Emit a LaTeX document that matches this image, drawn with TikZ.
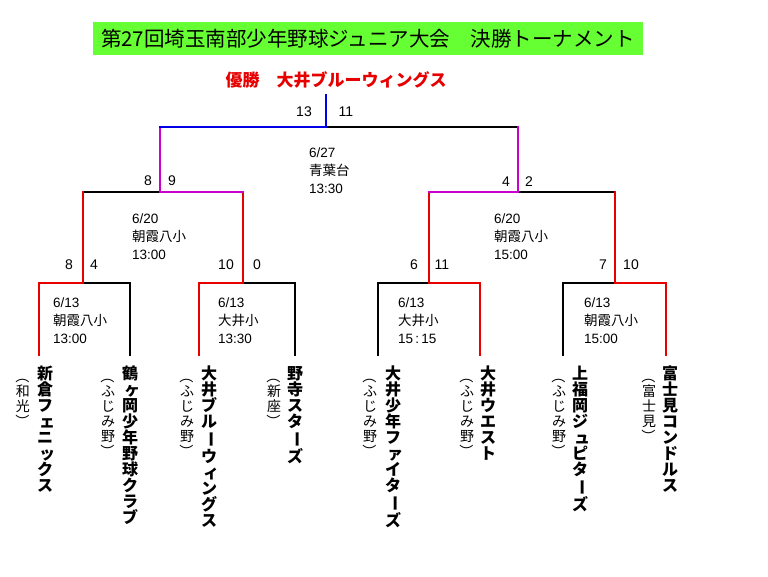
\documentclass[tikz,border=0pt]{standalone}
\usepackage{fontspec}
\setmainfont{Noto Sans CJK JP}
\newfontfamily\numfont{Liberation Sans}
\usepackage{graphicx}
\usepackage{tikz}
\usetikzlibrary{positioning}

\definecolor{winred}{RGB}{230,0,0}
\definecolor{finalblue}{RGB}{0,0,230}
\definecolor{semiviolet}{RGB}{204,0,204}
\definecolor{titlegreen}{RGB}{102,255,51}

\newcommand{\kazu}[1]{{\numfont #1}}
\newcommand{\chou}{\rotatebox[origin=c]{-90}{ー}}
\newcommand{\kakkoL}{\rotatebox[origin=c]{-90}{（}}
\newcommand{\kakkoR}{\rotatebox[origin=c]{-90}{）}}
\newcommand{\kogaki}[1]{\hspace*{0.25em}#1}

\begin{document}
\begin{tikzpicture}[x=1pt,y=-1pt,line width=2.2pt,line cap=rect]
    \tikzstyle{titlebox}=[fill=titlegreen, minimum width=550pt, minimum height=33pt, inner sep=0pt, font=\fontsize{20.5}{24}\selectfont]
    \tikzstyle{champ}=[text=winred, inner sep=0pt, font=\fontsize{17}{20}\selectfont\bfseries]
    \tikzstyle{score}=[inner sep=0pt, font=\fontsize{14}{16}\selectfont\numfont]
    \tikzstyle{info}=[anchor=north west, inner sep=0pt, align=left, font=\fontsize{13.5}{18}\selectfont]
    \tikzstyle{team}=[anchor=north, inner sep=0pt, align=center, font=\fontsize{16}{16}\selectfont\bfseries]
    \tikzstyle{town}=[anchor=north, inner sep=0pt, align=center, font=\fontsize{14}{15}\selectfont]

    \useasboundingbox[fill=white] (0,0) rectangle (768,576);

    \node[titlebox] (title) at (368,38.5) {第27回埼玉南部少年野球ジュニア大会　決勝トーナメント};
    \node[champ]    (champ) at (336,80) {優勝　大井ブルーウィングス};

    % bracket points
    \coordinate (ft) at (326,95);
    \coordinate (f)  at (326,127);
    \coordinate (fl) at (160,127);
    \coordinate (fr) at (518,127);
    \coordinate (s1)  at (160,192);
    \coordinate (s2)  at (518,192);
    \coordinate (s1l) at (83,192);
    \coordinate (s1r) at (243,192);
    \coordinate (s2l) at (429,192);
    \coordinate (s2r) at (615,192);
    \coordinate (m1) at (83,283);
    \coordinate (m2) at (243,283);
    \coordinate (m3) at (429,283);
    \coordinate (m4) at (615,283);
    \foreach \i/\x in {1/39,2/130,3/199,4/295,5/378,6/480,7/563,8/666} {
        \coordinate (c\i) at (\x,283);
        \coordinate (t\i) at (\x,355);
    }

    % losers
    \draw (m1) -- (c2) -- (t2);
    \draw (m2) -- (c4) -- (t4);
    \draw (m3) -- (c5) -- (t5);
    \draw (m4) -- (c7) -- (t7);
    \draw (s1) -- (s1l);
    \draw (s2) -- (s2r);
    \draw (f) -- (fr);

    % winners
    \draw[winred] (t1) -- (c1) -- (m1) -- (s1l);
    \draw[winred] (t3) -- (c3) -- (m2) -- (s1r);
    \draw[winred] (t6) -- (c6) -- (m3) -- (s2l);
    \draw[winred] (t8) -- (c8) -- (m4) -- (s2r);
    \draw[semiviolet] (s1r) -- (s1) -- (fl);
    \draw[semiviolet] (s2l) -- (s2) -- (fr);
    \draw[finalblue] (fl) -- (f) -- (ft);

    % scores
    \node[score] (a13) at (304,112) {13};
    \node[score] (b11) at (346,112) {11};
    \node[score] (a8)  at (148,181) {8};
    \node[score] (b9)  at (172,181) {9};
    \node[score] (a4)  at (506,182) {4};
    \node[score] (b2)  at (529,182) {2};
    \node[score] (p8)  at (69,265) {8};
    \node[score] (q4)  at (94,265) {4};
    \node[score] (p10) at (226,265) {10};
    \node[score] (q0)  at (257,265) {0};
    \node[score] (p6)  at (414,265) {6};
    \node[score] (q11) at (442,265) {11};
    \node[score] (p7)  at (603,265) {7};
    \node[score] (q10) at (631,265) {10};

    % dates, grounds, times
    \node[info] (g7) at (308,146.5) {\kazu{6/27}\\青葉台\\\kazu{13:30}};
    \node[info] (g5) at (131,212.5) {\kazu{6/20}\\朝霞八小\\\kazu{13:00}};
    \node[info] (g6) at (493,212.5) {\kazu{6/20}\\朝霞八小\\\kazu{15:00}};
    \node[info] (g1) at (52,296.5)  {\kazu{6/13}\\朝霞八小\\\kazu{13:00}};
    \node[info] (g2) at (217,296.5) {\kazu{6/13}\\大井小\\\kazu{13:30}};
    \node[info] (g3) at (397,296.5) {\kazu{6/13}\\大井小\\\kazu{15\,:\,15}};
    \node[info] (g4) at (583,296.5) {\kazu{6/13}\\朝霞八小\\\kazu{15:00}};

    % teams
    \node[team] (tm1) at (45,365)  {新\\倉\\フ\\\kogaki{ェ}\\ニ\\\kogaki{ッ}\\ク\\ス};
    \node[town] (ht1) at (23,368)  {\kakkoL\\和\\光\\\kakkoR};
    \node[team] (tm2) at (130,365) {鶴\\\kogaki{ヶ}\\岡\\少\\年\\野\\球\\ク\\ラ\\ブ};
    \node[town] (ht2) at (108,368) {\kakkoL\\ふ\\じ\\み\\野\\\kakkoR};
    \node[team] (tm3) at (209,365) {大\\井\\ブ\\ル\\\chou\\ウ\\\kogaki{ィ}\\ン\\グ\\ス};
    \node[town] (ht3) at (187,368) {\kakkoL\\ふ\\じ\\み\\野\\\kakkoR};
    \node[team] (tm4) at (295,365) {野\\寺\\ス\\タ\\\chou\\ズ};
    \node[town] (ht4) at (274,368) {\kakkoL\\新\\座\\\kakkoR};
    \node[team] (tm5) at (393,365) {大\\井\\少\\年\\フ\\\kogaki{ァ}\\イ\\タ\\\chou\\ズ};
    \node[town] (ht5) at (370,368) {\kakkoL\\ふ\\じ\\み\\野\\\kakkoR};
    \node[team] (tm6) at (488,365) {大\\井\\ウ\\エ\\ス\\ト};
    \node[town] (ht6) at (467,368) {\kakkoL\\ふ\\じ\\み\\野\\\kakkoR};
    \node[team] (tm7) at (580,365) {上\\福\\岡\\ジ\\\kogaki{ュ}\\ピ\\タ\\\chou\\ズ};
    \node[town] (ht7) at (559,368) {\kakkoL\\ふ\\じ\\み\\野\\\kakkoR};
    \node[team] (tm8) at (670,365) {富\\士\\見\\コ\\ン\\ド\\ル\\ス};
    \node[town] (ht8) at (649,368) {\kakkoL\\富\\士\\見\\\kakkoR};

\end{tikzpicture}
\end{document}
